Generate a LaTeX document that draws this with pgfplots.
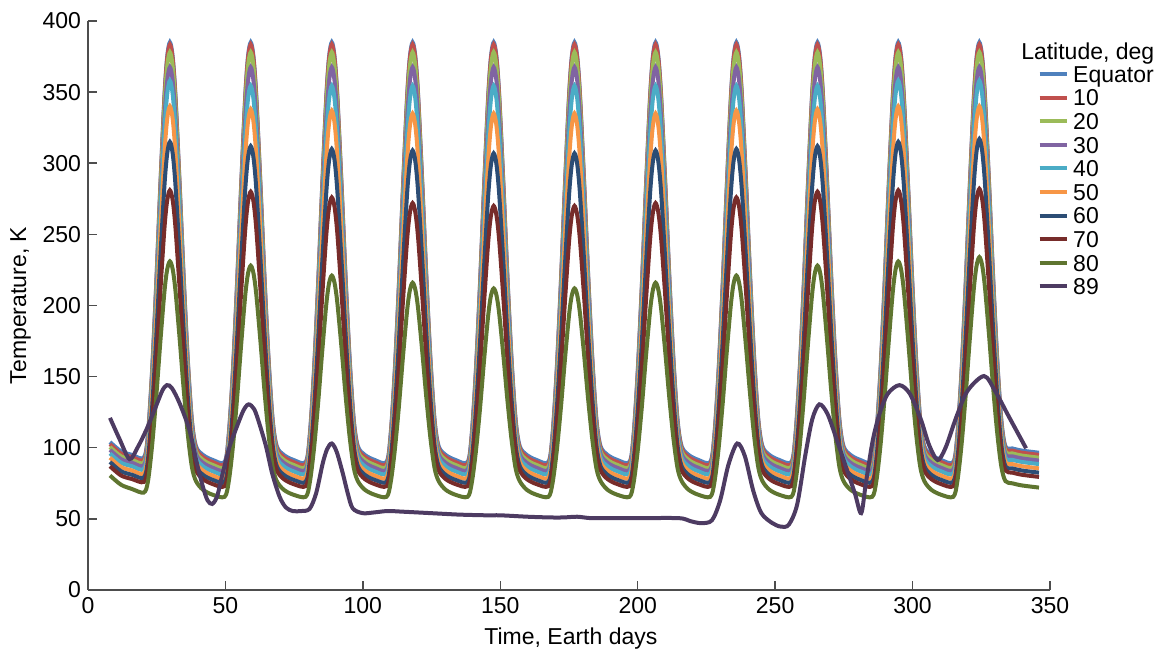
\documentclass[border=0pt]{standalone}
\usepackage{fontspec}
\setmainfont{Liberation Sans}
\usepackage{pgfplots}
\usepackage{pgfplotstable}
\pgfplotsset{compat=1.18}
\newcommand{\fs}{\fontsize{11.5}{13.8}\selectfont}
\definecolor{c0}{HTML}{4F81BD}
\definecolor{c10}{HTML}{C0504D}
\definecolor{c20}{HTML}{9BBB59}
\definecolor{c30}{HTML}{8064A2}
\definecolor{c40}{HTML}{4BACC6}
\definecolor{c50}{HTML}{F79646}
\definecolor{c60}{HTML}{2C4D75}
\definecolor{c70}{HTML}{772C2A}
\definecolor{c80}{HTML}{5F7530}
\definecolor{c89}{HTML}{4D3B62}
\definecolor{axgray}{HTML}{4D4D4D}

\pgfplotstableread{
x T0 T10 T20 T30 T40 T50 T60 T70 T80
8 104 102.5 100.5 98.5 96 93 90 87 80.5
12 97.5 96 94 92 89.5 86.5 83.5 80.5 74
16 95 93.5 91.5 89.5 87 84 81 78 71
20.3 93 91.5 89.5 87.5 85 82 79 76 68.5
21.8 109.2 107.7 105.4 102.9 99.9 96 91.5 86.5 76.3
23.3 153.4 151.9 149.2 145.3 141.3 135.1 127.4 117.7 101.1
24.8 213.9 212.4 208.9 203.4 197.9 188.6 176.4 160.4 135
26.3 283.2 281.7 277.4 269.9 262.8 250 232.5 209.2 173.9
27.8 346.7 345.2 340.1 330.7 322.1 306.1 283.9 254 209.5
28.8 374.7 373.2 367.8 357.6 348.3 330.9 306.6 273.7 225.2
29.8 385 383.5 378 367.5 358 340 315 281 231
30.8 375.1 373.6 368.2 358 348.7 331.3 307 274.1 225.6
31.8 348.1 346.6 341.5 332.1 323.6 307.5 285.4 255.4 210.9
33.3 287 285.5 281.2 273.7 266.6 253.8 236.3 213 177.7
34.8 220.3 218.8 215.3 209.7 204.3 195 182.8 166.7 141.4
36.3 162.1 160.6 157.8 154 150 143.8 136 126.4 109.7
37.8 119.5 118 115.7 113.2 110.2 106.3 101.8 96.8 86.5
39.3 101 99.5 97.5 95.5 93 90 87 84 76.5
41.8 95 93.5 91.5 89.5 87 84 81 78 70.5
45.3 91.5 90 88 86 83.5 80.5 77.5 74.5 67
49.7 90 88.5 86.5 84.5 82 79 76 73 65.5
51.2 109.2 107.7 105.4 102.9 99.7 95.8 91.3 86.5 76.1
52.7 153.4 151.9 149.2 145.3 140.6 134.7 126.7 117.5 100.4
54.2 213.9 212.4 208.9 203.4 196.5 187.8 175.1 159.9 133.8
55.7 283.2 281.7 277.4 269.9 260.5 248.6 230.6 208.6 171.9
57.2 346.7 345.2 340.1 330.7 319.1 304.3 281.3 253.1 206.9
58.2 374.7 373.2 367.8 357.6 345 328.9 303.7 272.8 222.3
59.2 385 383.5 378 367.5 354.5 338 312 280 228
60.2 375.1 373.6 368.2 358 345.3 329.3 304.1 273.1 222.7
61.2 348.1 346.6 341.5 332.1 320.5 305.8 282.8 254.5 208.3
62.7 287 285.5 281.2 273.7 264.3 252.4 234.4 212.4 175.7
64.2 220.3 218.8 215.3 209.7 202.8 194.2 181.5 166.3 140.1
65.7 162.1 160.6 157.8 154 149.2 143.3 135.4 126.1 109.1
67.2 119.5 118 115.7 113.2 110 106.1 101.6 96.7 86.3
68.7 101 99.5 97.5 95.5 93 90 87 84 76.5
71.2 95 93.5 91.5 89.5 87 84 81 78 70.5
74.7 91.5 90 88 86 83.5 80.5 77.5 74.5 67
79.2 90 88.5 86.5 84.5 82 79 76 73 65.5
80.7 109.2 107.7 105.4 102.9 99.7 95.8 91.2 86.2 75.6
82.2 153.4 151.9 149.2 145.3 140.6 134.5 126.3 116.6 98.9
83.7 213.9 212.4 208.9 203.4 196.5 187.4 174.3 158.3 130.8
85.2 283.2 281.7 277.4 269.9 260.5 248 229.3 206 167.4
86.7 346.7 345.2 340.1 330.7 319.1 303.5 279.6 249.6 200.8
87.7 374.7 373.2 367.8 357.6 345 328 301.8 268.9 215.6
88.7 385 383.5 378 367.5 354.5 337 310 276 221
89.7 375.1 373.6 368.2 358 345.3 328.4 302.2 269.3 215.9
90.7 348.1 346.6 341.5 332.1 320.5 304.9 281 251 202.2
92.2 287 285.5 281.2 273.7 264.3 251.8 233.1 209.8 171.1
93.7 220.3 218.8 215.3 209.7 202.8 193.7 180.7 164.6 137.2
95.2 162.1 160.6 157.8 154 149.2 143.1 134.9 125.3 107.6
96.7 119.5 118 115.7 113.2 110 106.1 101.5 96.5 85.9
98.2 101 99.5 97.5 95.5 93 90 87 84 76.5
100.7 95 93.5 91.5 89.5 87 84 81 78 70.5
104.2 91.5 90 88 86 83.5 80.5 77.5 74.5 67
108.6 90 88.5 86.5 84.5 82 79 76 73 65.5
110.1 109.2 107.7 105.4 102.9 99.7 95.6 91.1 85.9 75.3
111.6 153.4 151.9 149.2 145.3 140.6 134 126.1 115.8 97.9
113.1 213.9 212.4 208.9 203.4 196.5 186.5 173.9 156.6 128.7
114.6 283.2 281.7 277.4 269.9 260.5 246.7 228.6 203.3 164.1
116.1 346.7 345.2 340.1 330.7 319.1 301.7 278.7 246.1 196.4
117.1 374.7 373.2 367.8 357.6 345 326 300.8 265 210.7
118.1 385 383.5 378 367.5 354.5 335 309 272 216
119.1 375.1 373.6 368.2 358 345.3 326.4 301.2 265.4 211.1
120.1 348.1 346.6 341.5 332.1 320.5 303.2 280.1 247.6 197.9
121.6 287 285.5 281.2 273.7 264.3 250.5 232.4 207.1 167.9
123.1 220.3 218.8 215.3 209.7 202.8 192.9 180.2 163 135.1
124.6 162.1 160.6 157.8 154 149.2 142.7 134.7 124.4 106.5
126.1 119.5 118 115.7 113.2 110 105.9 101.4 96.2 85.6
127.6 101 99.5 97.5 95.5 93 90 87 84 76.5
130.1 95 93.5 91.5 89.5 87 84 81 78 70.5
133.6 91.5 90 88 86 83.5 80.5 77.5 74.5 67
138.1 90 88.5 86.5 84.5 82 79 76 73 65.5
139.6 109.2 107.7 105.4 102.9 99.7 95.6 91 85.8 75
141.1 153.4 151.9 149.2 145.3 140.6 134 125.7 115.4 97
142.6 213.9 212.4 208.9 203.4 196.5 186.5 173 155.7 127
144.1 283.2 281.7 277.4 269.9 260.5 246.7 227.3 202 161.5
145.6 346.7 345.2 340.1 330.7 319.1 301.7 277 244.4 193
146.6 374.7 373.2 367.8 357.6 345 326 298.9 263.1 206.9
147.6 385 383.5 378 367.5 354.5 335 307 270 212
148.6 375.1 373.6 368.2 358 345.3 326.4 299.3 263.5 207.3
149.6 348.1 346.6 341.5 332.1 320.5 303.2 278.4 245.8 194.4
151.1 287 285.5 281.2 273.7 264.3 250.5 231.1 205.8 165.3
152.6 220.3 218.8 215.3 209.7 202.8 192.9 179.4 162.1 133.4
154.1 162.1 160.6 157.8 154 149.2 142.7 134.3 124 105.6
155.6 119.5 118 115.7 113.2 110 105.9 101.3 96.1 85.3
157.1 101 99.5 97.5 95.5 93 90 87 84 76.5
159.6 95 93.5 91.5 89.5 87 84 81 78 70.5
163.1 91.5 90 88 86 83.5 80.5 77.5 74.5 67
167.5 90 88.5 86.5 84.5 82 79 76 73 65.5
169 109.2 107.7 105.4 102.9 99.7 95.6 91 85.8 75
170.5 153.4 151.9 149.2 145.3 140.6 134 125.7 115.4 97
172 213.9 212.4 208.9 203.4 196.5 186.5 173 155.7 127
173.5 283.2 281.7 277.4 269.9 260.5 246.7 227.3 202 161.5
175 346.7 345.2 340.1 330.7 319.1 301.7 277 244.4 193
176 374.7 373.2 367.8 357.6 345 326 298.9 263.1 206.9
177 385 383.5 378 367.5 354.5 335 307 270 212
178 375.1 373.6 368.2 358 345.3 326.4 299.3 263.5 207.3
179 348.1 346.6 341.5 332.1 320.5 303.2 278.4 245.8 194.4
180.5 287 285.5 281.2 273.7 264.3 250.5 231.1 205.8 165.3
182 220.3 218.8 215.3 209.7 202.8 192.9 179.4 162.1 133.4
183.5 162.1 160.6 157.8 154 149.2 142.7 134.3 124 105.6
185 119.5 118 115.7 113.2 110 105.9 101.3 96.1 85.3
186.5 101 99.5 97.5 95.5 93 90 87 84 76.5
189 95 93.5 91.5 89.5 87 84 81 78 70.5
192.5 91.5 90 88 86 83.5 80.5 77.5 74.5 67
197 90 88.5 86.5 84.5 82 79 76 73 65.5
198.5 109.2 107.7 105.4 102.9 99.7 95.6 91.1 85.9 75.3
200 153.4 151.9 149.2 145.3 140.6 134 126.1 115.8 97.9
201.5 213.9 212.4 208.9 203.4 196.5 186.5 173.9 156.6 128.7
203 283.2 281.7 277.4 269.9 260.5 246.7 228.6 203.3 164.1
204.5 346.7 345.2 340.1 330.7 319.1 301.7 278.7 246.1 196.4
205.5 374.7 373.2 367.8 357.6 345 326 300.8 265 210.7
206.5 385 383.5 378 367.5 354.5 335 309 272 216
207.5 375.1 373.6 368.2 358 345.3 326.4 301.2 265.4 211.1
208.5 348.1 346.6 341.5 332.1 320.5 303.2 280.1 247.6 197.9
210 287 285.5 281.2 273.7 264.3 250.5 232.4 207.1 167.9
211.5 220.3 218.8 215.3 209.7 202.8 192.9 180.2 163 135.1
213 162.1 160.6 157.8 154 149.2 142.7 134.7 124.4 106.5
214.5 119.5 118 115.7 113.2 110 105.9 101.4 96.2 85.6
216 101 99.5 97.5 95.5 93 90 87 84 76.5
218.5 95 93.5 91.5 89.5 87 84 81 78 70.5
222 91.5 90 88 86 83.5 80.5 77.5 74.5 67
226.4 90 88.5 86.5 84.5 82 79 76 73 65.5
227.9 109.2 107.7 105.4 102.9 99.7 95.8 91.2 86.2 75.6
229.4 153.4 151.9 149.2 145.3 140.6 134.5 126.3 116.6 98.9
230.9 213.9 212.4 208.9 203.4 196.5 187.4 174.3 158.3 130.8
232.4 283.2 281.7 277.4 269.9 260.5 248 229.3 206 167.4
233.9 346.7 345.2 340.1 330.7 319.1 303.5 279.6 249.6 200.8
234.9 374.7 373.2 367.8 357.6 345 328 301.8 268.9 215.6
235.9 385 383.5 378 367.5 354.5 337 310 276 221
236.9 375.1 373.6 368.2 358 345.3 328.4 302.2 269.3 215.9
237.9 348.1 346.6 341.5 332.1 320.5 304.9 281 251 202.2
239.4 287 285.5 281.2 273.7 264.3 251.8 233.1 209.8 171.1
240.9 220.3 218.8 215.3 209.7 202.8 193.7 180.7 164.6 137.2
242.4 162.1 160.6 157.8 154 149.2 143.1 134.9 125.3 107.6
243.9 119.5 118 115.7 113.2 110 106.1 101.5 96.5 85.9
245.4 101 99.5 97.5 95.5 93 90 87 84 76.5
247.9 95 93.5 91.5 89.5 87 84 81 78 70.5
251.4 91.5 90 88 86 83.5 80.5 77.5 74.5 67
255.9 90 88.5 86.5 84.5 82 79 76 73 65.5
257.4 109.2 107.7 105.4 102.9 99.7 95.8 91.3 86.5 76.1
258.9 153.4 151.9 149.2 145.3 140.6 134.7 126.7 117.5 100.4
260.4 213.9 212.4 208.9 203.4 196.5 187.8 175.1 159.9 133.8
261.9 283.2 281.7 277.4 269.9 260.5 248.6 230.6 208.6 171.9
263.4 346.7 345.2 340.1 330.7 319.1 304.3 281.3 253.1 206.9
264.4 374.7 373.2 367.8 357.6 345 328.9 303.7 272.8 222.3
265.4 385 383.5 378 367.5 354.5 338 312 280 228
266.4 375.1 373.6 368.2 358 345.3 329.3 304.1 273.1 222.7
267.4 348.1 346.6 341.5 332.1 320.5 305.8 282.8 254.5 208.3
268.9 287 285.5 281.2 273.7 264.3 252.4 234.4 212.4 175.7
270.4 220.3 218.8 215.3 209.7 202.8 194.2 181.5 166.3 140.1
271.9 162.1 160.6 157.8 154 149.2 143.3 135.4 126.1 109.1
273.4 119.5 118 115.7 113.2 110 106.1 101.6 96.7 86.3
274.9 101 99.5 97.5 95.5 93 90 87 84 76.5
277.4 95 93.5 91.5 89.5 87 84 81 78 70.5
280.9 91.5 90 88 86 83.5 80.5 77.5 74.5 67
285.3 90 88.5 86.5 84.5 82 79 76 73 65.5
286.8 109.2 107.7 105.4 102.9 99.9 96 91.5 86.5 76.3
288.3 153.4 151.9 149.2 145.3 141.3 135.1 127.4 117.7 101.1
289.8 213.9 212.4 208.9 203.4 197.9 188.6 176.4 160.4 135
291.3 283.2 281.7 277.4 269.9 262.8 250 232.5 209.2 173.9
292.8 346.7 345.2 340.1 330.7 322.1 306.1 283.9 254 209.5
293.8 374.7 373.2 367.8 357.6 348.3 330.9 306.6 273.7 225.2
294.8 385 383.5 378 367.5 358 340 315 281 231
295.8 375.1 373.6 368.2 358 348.7 331.3 307 274.1 225.6
296.8 348.1 346.6 341.5 332.1 323.6 307.5 285.4 255.4 210.9
298.3 287 285.5 281.2 273.7 266.6 253.8 236.3 213 177.7
299.8 220.3 218.8 215.3 209.7 204.3 195 182.8 166.7 141.4
301.3 162.1 160.6 157.8 154 150 143.8 136 126.4 109.7
302.8 119.5 118 115.7 113.2 110.2 106.3 101.8 96.8 86.5
304.3 101 99.5 97.5 95.5 93 90 87 84 76.5
306.8 95 93.5 91.5 89.5 87 84 81 78 70.5
310.3 91.5 90 88 86 83.5 80.5 77.5 74.5 67
314.8 90 88.5 86.5 84.5 82 79 76 73 65.5
316.3 109.2 107.7 105.4 102.9 99.9 96 91.7 86.6 76.5
317.8 153.4 151.9 149.2 145.3 141.3 135.1 127.8 117.9 101.7
319.3 213.9 212.4 208.9 203.4 197.9 188.6 177.2 160.8 136.3
320.8 283.2 281.7 277.4 269.9 262.8 250 233.9 209.9 175.9
322.3 346.7 345.2 340.1 330.7 322.1 306.1 285.7 254.8 212.1
323.3 374.7 373.2 367.8 357.6 348.3 330.9 308.6 274.7 228.1
324.3 385 383.5 378 367.5 358 340 317 282 234
325.3 375.1 373.6 368.2 358 348.7 331.3 309 275.1 228.5
326.3 348.1 346.6 341.5 332.1 323.6 307.5 287.1 256.3 213.5
327.8 287 285.5 281.2 273.7 266.6 253.8 237.7 213.7 179.7
329.3 220.3 218.8 215.3 209.7 204.3 195 183.6 167.2 142.7
330.8 162.1 160.6 157.8 154 150 143.8 136.5 126.6 110.4
332.3 119.5 118 115.7 113.2 110.2 106.3 102 96.9 86.7
333.8 101 99.5 97.5 95.5 93 90 87 84 76.5
336.3 99.5 98 96 94 91.5 88.5 85.5 82.5 75
339.8 98 96.5 94.5 92.5 90 87 84 81 73.5
346 96.5 95 93 91 88.5 85.5 82.5 79.5 72
}\peaks

\pgfplotstableread{
x T89
8 121
11.5 106
15.1 92
18 100
21.2 112.5
24.5 128
27 140
28.7 144
30.5 142
33.3 131.4
36.9 112.5
39.5 90
41.8 72.6
43.5 63
45.2 60.5
47 66
49 82
51.5 100.7
54 114
56.5 126
58.4 130.5
60.5 127
62.5 116
64.8 100.7
67 82
69.7 65.6
72 58
74.5 55.5
77.5 55.5
80.6 57
83 68
85.4 89
87 99
88.7 103
90.5 97
92.7 82
94.5 68
96.3 57.4
99.9 54
104 54.5
109 55.5
115 55
125 54
135 53
145 52.5
150 52.5
160 51.5
168 51
173 51
178 51.5
183 50.5
190 50.5
200 50.5
215 50.5
219 48.5
223 47
227 49
230 63
233 88
236.2 103
239 94
242 70
245 54
249 47
252.2 44.5
255 46
258 60
261 95
263.5 120
266.1 130.5
269 124
272 108
275.5 88
279 68
281.3 54
283 75
285.5 105
288 124
291 138
295.2 144
299 138
303 120
306 102
309.1 91.4
312 100
316 122
320 140
326 150.4
330 140
335 122
341.3 99.6
}\polar

\begin{document}
\begin{tikzpicture}
\useasboundingbox (-44pt,-33.5pt) rectangle (540.5pt,295pt);
\begin{axis}[
  at={(0pt,0pt)}, anchor=south west,
  scale only axis, width=481pt, height=284.5pt,
  xmin=0, xmax=350, ymin=0, ymax=400,
  xtick={0,50,...,350}, ytick={0,50,...,400},
  axis x line*=bottom, axis y line*=left,
  axis line style={draw=axgray, line width=0.75pt, -},
  tick style={draw=axgray, line width=0.75pt},
  major tick length=4.5pt, tick align=inside,
  minor tick num=0,
  /pgf/number format/assume math mode=true,
  tick label style={font=\fs, text=black},
  label style={font=\fs, text=black},
  xlabel={Time, Earth days},
  ylabel={Temperature, K},
  xlabel style={at={(axis description cs:0.502,-0.086)}, anchor=center},
  ylabel style={at={(axis description cs:-0.070,0.5)}, anchor=center},
  clip=false,
  legend cell align=left,
  legend image code/.code={\draw[#1, line width=2pt] (0pt,0pt) -- (13.5pt,0pt); \path (15.8pt,0pt);},
  legend style={draw=none, fill=none, at={(axis cs:345.5,368.6)}, anchor=north west,
    inner sep=0pt, outer sep=0pt, row sep=3.5pt, font=\fs,
    nodes={inner sep=0pt, text height=8.3pt, text depth=0pt}},
  every axis plot/.append style={line width=2pt, smooth, tension=0.5, no markers},
]
\addplot[c0] table[x=x, y=T0] {\peaks};
\addlegendentry{Equator}
\addplot[c10] table[x=x, y=T10] {\peaks};
\addlegendentry{10}
\addplot[c20] table[x=x, y=T20] {\peaks};
\addlegendentry{20}
\addplot[c30] table[x=x, y=T30] {\peaks};
\addlegendentry{30}
\addplot[c40] table[x=x, y=T40] {\peaks};
\addlegendentry{40}
\addplot[c50] table[x=x, y=T50] {\peaks};
\addlegendentry{50}
\addplot[c60] table[x=x, y=T60] {\peaks};
\addlegendentry{60}
\addplot[c70] table[x=x, y=T70] {\peaks};
\addlegendentry{70}
\addplot[c80] table[x=x, y=T80] {\peaks};
\addlegendentry{80}
\addplot[c89] table[x=x, y=T89] {\polar};
\addlegendentry{89}
\node[anchor=base west, inner sep=0pt, font=\fs] at (axis cs:339.4,373.1) {Latitude, deg};
\end{axis}
\end{tikzpicture}
\end{document}
